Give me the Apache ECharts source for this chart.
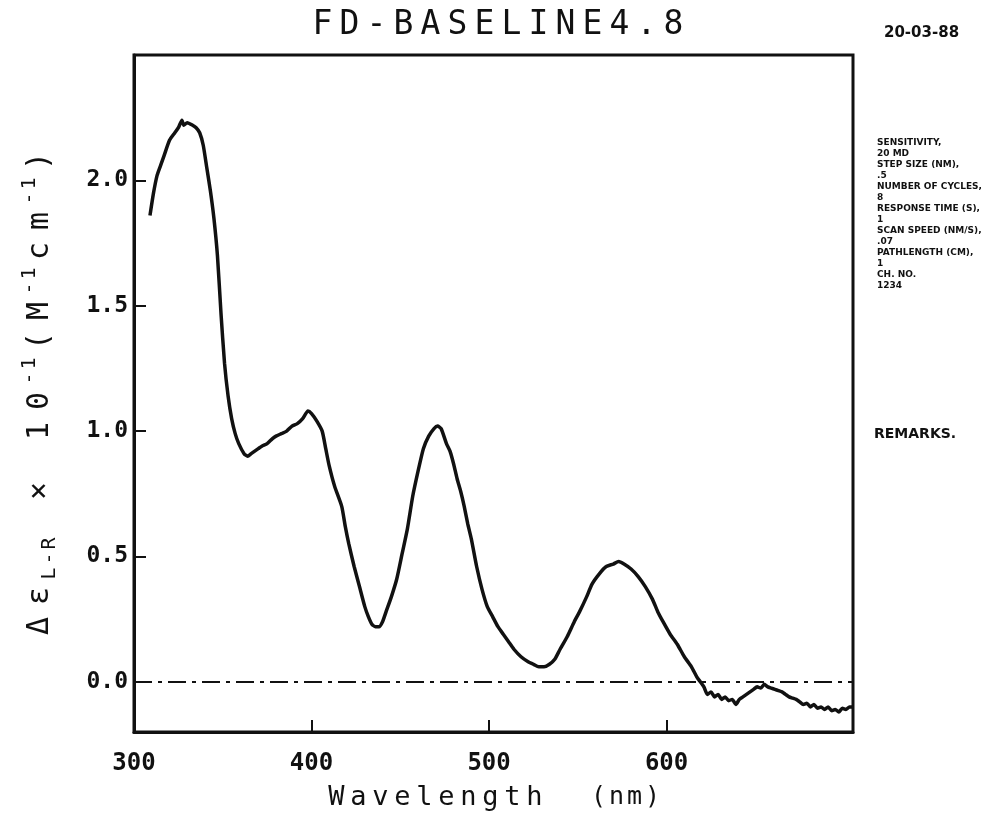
<!DOCTYPE html>
<html>
<head>
<meta charset="utf-8">
<script src="https://cdn.jsdelivr.net/npm/echarts@6/dist/echarts.min.js"></script>
<style>
  html, body { margin: 0; padding: 0; background: #fff; }
  #chart { width: 996px; height: 816px; }
</style>
</head>
<body>
<div id="chart"></div>
<script>
// CD spectrum
var wavelengths = [
  309, 311, 313, 315, 317, 320, 323, 325, 327, 328, 330, 333, 335, 337, 339, 341, 343, 345, 347, 349,
  351, 353, 355, 357, 359, 362, 364, 366, 368, 370, 372, 375, 378, 380, 383, 386, 389, 392, 395, 398,
  400, 403, 406, 408, 410, 413, 417, 419, 421, 424, 427, 430, 432, 434, 436, 438, 440, 442, 445, 448,
  451, 454, 457, 460, 463, 466, 469, 471, 473, 476, 478, 480, 482, 484, 486, 488, 490, 493, 496, 499,
  502, 505, 508, 511, 514, 518, 522, 525, 528, 531, 534, 537, 540, 544, 548, 551, 555, 558, 562, 566,
  570, 573, 576, 580, 584, 588, 592, 595, 598, 602, 606, 610, 614, 617, 619, 621, 623, 625, 627, 629,
  631, 633, 635, 637, 639, 641, 643, 645, 647, 649, 651, 653, 655, 657, 659, 661, 663, 665, 667, 669,
  671, 673, 675, 677, 679, 681, 683, 685, 687, 689, 691, 693, 695, 697, 699, 701, 703, 705
];
var cdValues = [
  1.86, 1.95, 2.02, 2.06, 2.10, 2.16, 2.19, 2.21, 2.24, 2.22, 2.23, 2.22, 2.21, 2.19, 2.14, 2.05, 1.96, 1.85, 1.70, 1.47,
  1.27, 1.14, 1.05, 0.99, 0.95, 0.91, 0.90, 0.91, 0.92, 0.93, 0.94, 0.95, 0.97, 0.98, 0.99, 1.00, 1.02, 1.03, 1.05, 1.08,
  1.07, 1.04, 1.00, 0.93, 0.86, 0.78, 0.70, 0.62, 0.55, 0.46, 0.38, 0.30, 0.26, 0.23, 0.22, 0.22, 0.24, 0.28, 0.34, 0.41,
  0.51, 0.61, 0.74, 0.84, 0.93, 0.98, 1.01, 1.02, 1.01, 0.95, 0.92, 0.87, 0.81, 0.76, 0.70, 0.63, 0.57, 0.46, 0.37, 0.30,
  0.26, 0.22, 0.19, 0.16, 0.13, 0.10, 0.08, 0.07, 0.06, 0.06, 0.07, 0.09, 0.13, 0.18, 0.24, 0.28, 0.34, 0.39, 0.43, 0.46,
  0.47, 0.48, 0.47, 0.45, 0.42, 0.38, 0.33, 0.28, 0.24, 0.19, 0.15, 0.10, 0.06, 0.02, 0.00, -0.02, -0.05, -0.04, -0.06, -0.05,
  -0.07, -0.06, -0.075, -0.07, -0.09, -0.07, -0.06, -0.05, -0.04, -0.03, -0.02, -0.025, -0.01, -0.02, -0.025, -0.03, -0.035, -0.04, -0.05, -0.06,
  -0.065, -0.07, -0.08, -0.09, -0.085, -0.10, -0.09, -0.105, -0.10, -0.11, -0.10, -0.115, -0.11, -0.12, -0.105, -0.11, -0.10, -0.10
];
var xLabels = [300, 400, 500, 600];
var xTicks = [400, 500, 600];
var yLabels = [0, 0.5, 1.0, 1.5, 2.0];

var titleText = 'FD-BASELINE4.8';
var dateText = '20-03-88';
var paramLines = [
  'SENSITIVITY,', '20 MD', 'STEP SIZE (NM),', '.5', 'NUMBER OF CYCLES,', '8',
  'RESPONSE TIME (S),', '1', 'SCAN SPEED (NM/S),', '.07', 'PATHLENGTH (CM),', '1',
  'CH. NO.', '1234'
];
var remarksText = 'REMARKS.';

var ink = '#111';
var font = 'DejaVu Sans';
var mono = 'DejaVu Sans Mono';

// plotter letters are spaced wide: put each char in its own fixed-width token
function spread(str, key) {
    return str.split('').map(function (c) {
        return '{' + key + '|' + (c === ' ' ? '\u00a0' : c) + '}';
    }).join('');
}

var yName = spread('Δε', 'a') + spread('L-R', 's') + spread(' × 10', 'a') + spread('-1', 'p') +
    spread('(M', 'a') + spread('-1', 'p') + spread('cm', 'a') + spread('-1', 'p') + spread(')', 'a');
var xName = spread('Wavelength', 'w') + spread('  ', 'w') + spread('(nm)', 'n');

var points = wavelengths.map(function (w, i) { return [w, cdValues[i]]; });

var myChart = echarts.init(document.getElementById('chart'));
myChart.setOption({
    backgroundColor: '#fff',
    animation: false,
    title: {
        text: spread(titleText, 'c'),
        left: 'center',
        top: 4,
        textStyle: {
            fontWeight: 'normal',
            rich: {
                c: { width: 27, align: 'center', fontSize: 33, fontFamily: mono, fontWeight: 'normal', color: ink }
            }
        }
    },
    grid: {
        left: 134,
        right: 143,
        top: 55,
        bottom: 84,
        show: true,
        borderColor: ink,
        borderWidth: 3,
        backgroundColor: 'transparent'
    },
    xAxis: {
        type: 'value',
        min: 300,
        max: 705,
        splitLine: { show: false },
        axisLine: { show: true, onZero: false, lineStyle: { color: ink, width: 3 } },
        axisTick: { show: true, inside: true, length: 12, lineStyle: { color: ink, width: 2 }, customValues: xTicks },
        axisLabel: { customValues: xLabels, margin: 20, fontSize: 24, fontFamily: mono, fontWeight: 'bold', color: ink },
        name: xName,
        nameLocation: 'middle',
        nameGap: 52,
        nameTextStyle: {
            rich: {
                w: { width: 22, align: 'center', fontSize: 27, fontFamily: mono, color: ink },
                n: { width: 18, align: 'center', fontSize: 25, fontFamily: mono, color: ink }
            }
        }
    },
    yAxis: {
        type: 'value',
        min: -0.2,
        max: 2.5,
        splitLine: { show: false },
        axisLine: { show: true, onZero: false, lineStyle: { color: ink, width: 3 } },
        axisTick: { show: true, inside: true, length: 12, lineStyle: { color: ink, width: 2 }, customValues: yLabels },
        axisLabel: {
            customValues: yLabels,
            margin: 6,
            fontSize: 23,
            fontFamily: mono,
            fontWeight: 'bold',
            color: ink,
            formatter: function (v) { return v.toFixed(1); }
        },
        name: yName,
        nameLocation: 'middle',
        nameRotate: 90,
        nameGap: 74,
        nameTextStyle: {
            rich: {
                a: { width: 30, align: 'center', fontSize: 30, fontFamily: mono, color: ink, lineHeight: 40, verticalAlign: 'middle' },
                s: { width: 15, align: 'center', fontSize: 20, fontFamily: mono, color: ink, lineHeight: 18, verticalAlign: 'bottom' },
                p: { width: 15, align: 'center', fontSize: 20, fontFamily: mono, color: ink, lineHeight: 18, verticalAlign: 'top' }
            }
        }
    },
    series: [
        {
            type: 'line',
            data: points,
            showSymbol: false,
            smooth: 0.2,
            lineStyle: { color: ink, width: 3.5 },
            markLine: {
                silent: true,
                symbol: 'none',
                label: { show: false },
                lineStyle: { color: ink, width: 2, type: [18, 6, 4, 6] },
                data: [{ yAxis: 0 }]
            }
        }
    ],
    graphic: [
        {
            type: 'text',
            left: 884,
            top: 26,
            style: { text: dateText, fontSize: 15, fontWeight: 'bold', fontFamily: font, fill: ink }
        },
        {
            type: 'text',
            left: 877,
            top: 137,
            style: {
                text: paramLines.join('\n'),
                fontSize: 9,
                lineHeight: 11,
                fontWeight: 'bold',
                fontFamily: font,
                fill: ink
            }
        },
        {
            type: 'text',
            left: 874,
            top: 427,
            style: { text: remarksText, fontSize: 14, fontWeight: 'bold', fontFamily: font, fill: ink }
        }
    ]
});
</script>
</body>
</html>
